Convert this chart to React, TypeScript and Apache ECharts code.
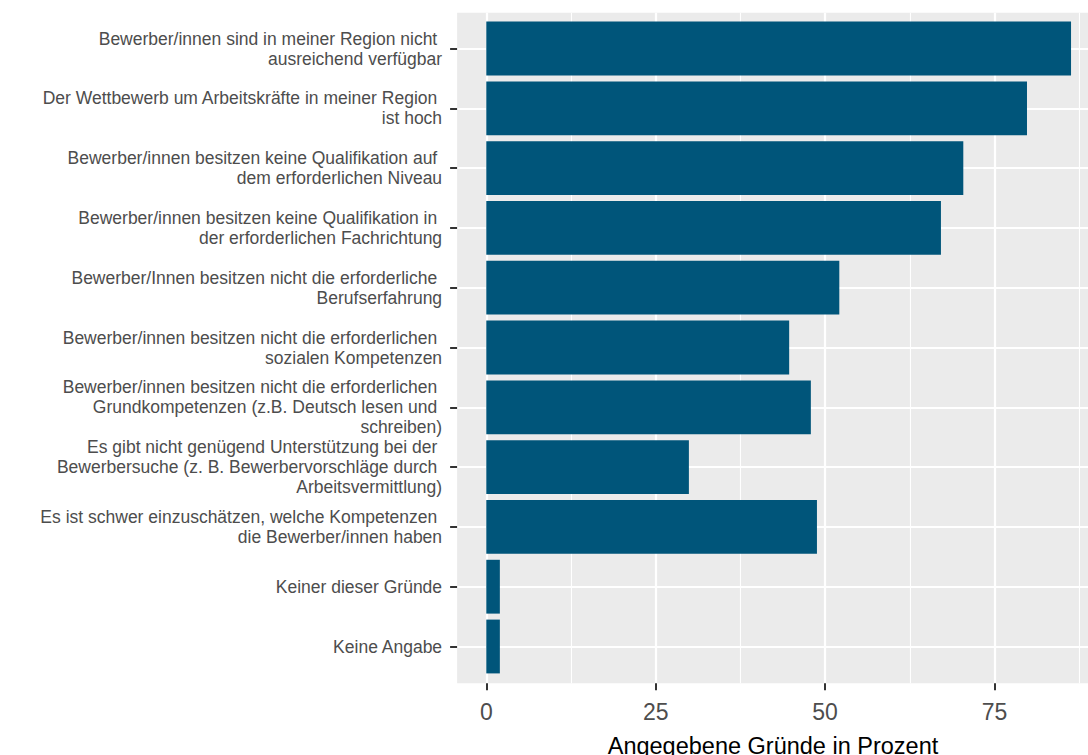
import React, { useEffect, useRef } from "react";
import * as echarts from "echarts";

const categories: string[] = [
  "Bewerber/innen sind in meiner Region nicht \nausreichend verfügbar",
  "Der Wettbewerb um Arbeitskräfte in meiner Region \nist hoch",
  "Bewerber/innen besitzen keine Qualifikation auf \ndem erforderlichen Niveau",
  "Bewerber/innen besitzen keine Qualifikation in \nder erforderlichen Fachrichtung",
  "Bewerber/Innen besitzen nicht die erforderliche \nBerufserfahrung",
  "Bewerber/innen besitzen nicht die erforderlichen \nsozialen Kompetenzen",
  "Bewerber/innen besitzen nicht die erforderlichen \nGrundkompetenzen (z.B. Deutsch lesen und \nschreiben)",
  "Es gibt nicht genügend Unterstützung bei der \nBewerbersuche (z. B. Bewerbervorschläge durch \nArbeitsvermittlung)",
  "Es ist schwer einzuschätzen, welche Kompetenzen \ndie Bewerber/innen haben",
  "Keiner dieser Gründe",
  "Keine Angabe",
];

const values: number[] = [86.3, 79.8, 70.4, 67.1, 52.1, 44.7, 47.9, 29.9, 48.8, 2.0, 2.0];

const xTicks: number[] = [0, 25, 50, 75];
const xTitle = "Angegebene Gründe in Prozent";

const FONT = "Liberation Sans, Arial, sans-serif";
const X_MIN = -4.31;
const X_MAX = 90.56;

export default function App() {
  const ref = useRef<HTMLDivElement | null>(null);

  useEffect(() => {
    if (!ref.current) return;
    const chart = echarts.init(ref.current, undefined, { renderer: "svg" });
    const panelLeft = 457.1;
    const panelWidth = 642.8;
    chart.setOption({
      animation: false,
      backgroundColor: "#FFFFFF",
      textStyle: { fontFamily: FONT },
      grid: [
        {
          left: panelLeft,
          top: 12.7,
          width: panelWidth,
          height: 670.6,
          show: true,
          backgroundColor: "#EBEBEB",
          borderWidth: 0,
          containLabel: false,
          outerBoundsMode: "none",
        },
        {
          left: panelLeft,
          top: 18.6,
          width: panelWidth,
          height: 657.8,
          show: false,
          containLabel: false,
          outerBoundsMode: "none",
        },
      ],
      xAxis: [
        {
          type: "value",
          gridIndex: 0,
          min: X_MIN,
          max: X_MAX,
          minInterval: 25,
          maxInterval: 25,
          axisLine: { show: false },
          axisTick: {
            show: true,
            customValues: xTicks,
            length: 7,
            lineStyle: { color: "#333333", width: 2 },
          },
          axisLabel: {
            show: true,
            customValues: xTicks,
            fontSize: 23,
            color: "#4D4D4D",
            fontFamily: FONT,
            margin: 17,
          },
          splitLine: { show: true, lineStyle: { color: "#FFFFFF", width: 2.2 } },
          minorTick: { show: false, splitNumber: 2 },
          minorSplitLine: { show: true, lineStyle: { color: "#FFFFFF", width: 1.1 } },
          name: xTitle,
          nameLocation: "middle",
          nameGap: 51,
          nameTextStyle: {
            fontSize: 23.5,
            color: "#000000",
            fontFamily: FONT,
            padding: [0, 11, 0, 0],
          },
        },
        {
          type: "value",
          gridIndex: 1,
          min: X_MIN,
          max: X_MAX,
          show: false,
          splitLine: { show: false },
        },
      ],
      yAxis: [
        {
          type: "value",
          gridIndex: 0,
          min: 0,
          max: 1,
          show: false,
          splitLine: { show: false },
        },
        {
          type: "category",
          gridIndex: 1,
          data: categories,
          inverse: true,
          axisLine: { show: false, onZero: false },
          axisTick: {
            show: true,
            alignWithLabel: true,
            interval: 0,
            length: 7,
            lineStyle: { color: "#333333", width: 2 },
          },
          axisLabel: {
            interval: 0,
            fontSize: 17.5,
            lineHeight: 20,
            color: "#4D4D4D",
            fontFamily: FONT,
            margin: 15,
            align: "right",
            padding: [8, 0, 0, 0],
          },
          splitLine: {
            show: true,
            alignWithLabel: true,
            interval: 0,
            lineStyle: { color: "#FFFFFF", width: 2.2 },
          },
        },
      ],
      series: [
        {
          type: "bar",
          xAxisIndex: 1,
          yAxisIndex: 1,
          data: values,
          barWidth: "90%",
          itemStyle: { color: "#00557A" },
          z: 2,
        },
      ],
    });
    return () => {
      chart.dispose();
    };
  }, []);

  return (
    <div
      ref={ref}
      style={{ position: "absolute", left: 0, top: 0, width: 1088, height: 755 }}
    />
  );
}
